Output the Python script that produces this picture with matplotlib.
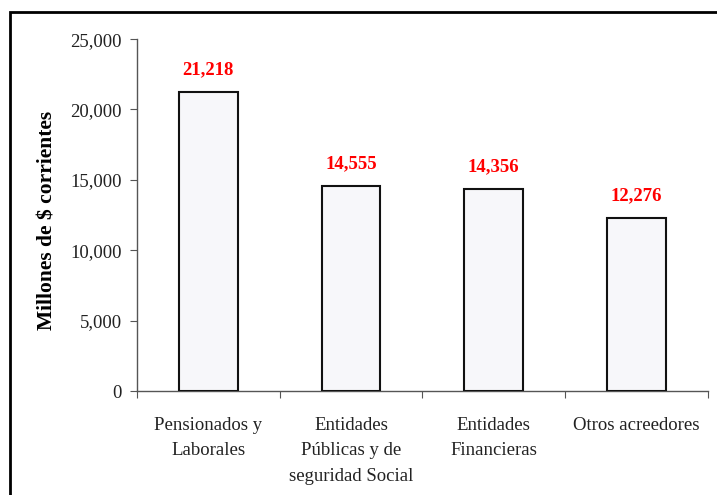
import numpy as np
import matplotlib
matplotlib.use("Agg")
from matplotlib import pyplot as plt
from matplotlib.patches import Rectangle
from matplotlib.ticker import FuncFormatter

categories = ["Pensionados y\nLaborales", "Entidades\nPúblicas y de\nseguridad Social",
              "Entidades\nFinancieras", "Otros acreedores"]
values = [21218, 14555, 14356, 12276]
y_ticks = [0, 5000, 10000, 15000, 20000, 25000]

plt.rcParams['font.family'] = ['Liberation Serif', 'DejaVu Serif']

fig = plt.figure(figsize=(7.17, 4.95), dpi=100)
ax = fig.add_axes([0.191, 0.210, 0.796, 0.711])

x = np.arange(len(categories))
ax.bar(x, values, width=0.41, color='#f7f7fa', edgecolor='#111111', linewidth=1.5, zorder=3)

for xi, v in zip(x, values):
    ax.text(xi, v + 1000, "{:,}".format(v), ha='center', va='bottom',
            color='#ff0000', fontweight='bold', fontsize=13.5)

ax.set_xlim(-0.5, len(categories) - 0.5)
ax.set_ylim(0, 25000)
ax.set_yticks(y_ticks)
ax.yaxis.set_major_formatter(FuncFormatter(lambda v, p: "{:,}".format(int(v))))
ax.set_xticks(np.arange(len(categories) + 1) - 0.5)
ax.set_xticklabels([])
ax.tick_params(axis='x', length=5, direction='out', color='#555555')
ax.tick_params(axis='y', length=5, direction='out', color='#555555', labelsize=13.5, pad=6)
for lbl in ax.get_yticklabels():
    lbl.set_color('#222222')

for xi, cat in zip(x, categories):
    ax.text(xi, -1830, cat, ha='center', va='top', fontsize=13.5, color='#222222',
            linespacing=1.65)

ax.set_ylabel("Millones de $ corrientes", fontsize=15.5, fontweight='bold')
ax.yaxis.set_label_coords(-0.139, 0.485)

for s in ['top', 'right']:
    ax.spines[s].set_visible(False)
for s in ['left', 'bottom']:
    ax.spines[s].set_color('#555555')
    ax.spines[s].set_linewidth(1.0)

# outer frame (only top and left are visible in the crop)
fig.patches.append(Rectangle((10 / 717, -0.1), 1.2, 1.1 - 12 / 495, transform=fig.transFigure,
                             fill=False, edgecolor='black', linewidth=2.0))

fig.savefig("out.png", dpi=100)
